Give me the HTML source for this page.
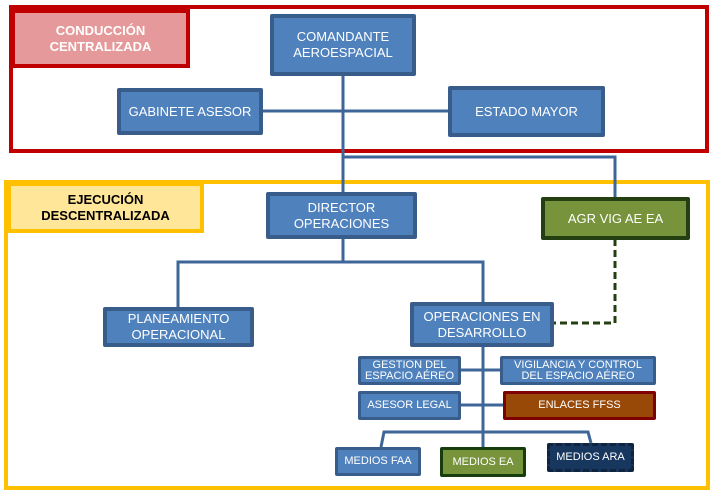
<!DOCTYPE html><html><head><meta charset="utf-8"><style>
body{margin:0;width:715px;height:497px;background:#fff;position:relative;overflow:hidden;font-family:"Liberation Sans",sans-serif}
.b{position:absolute;box-sizing:border-box;display:flex;align-items:center;justify-content:center;text-align:center;color:#fff;background:#4f81bd;border:4px solid #385d8a;border-radius:2px;font-size:13px;line-height:16px}
.s{font-size:11px;line-height:11px;border-width:3px}
</style></head><body>
<svg width="715" height="497" style="position:absolute;left:0;top:0">
<rect x="11" y="7" width="696" height="144" fill="none" stroke="#c00000" stroke-width="4"/>
<rect x="6" y="182" width="702" height="306" fill="none" stroke="#ffc000" stroke-width="4"/>
<g stroke="#3f6698" stroke-width="3" fill="none">
<line x1="262" y1="111" x2="448" y2="111"/>
<line x1="343" y1="75" x2="343" y2="192"/>
<polyline points="343,157 615,157 615,198"/>
<line x1="343" y1="238" x2="343" y2="262"/>
<polyline points="178,307 178,262 483,262 483,302"/>
<line x1="483" y1="346" x2="483" y2="447"/>
<line x1="460" y1="370" x2="500" y2="370"/>
<line x1="460" y1="405" x2="503" y2="405"/>
<polyline points="381,447 384,432 588,432 591,443"/>
</g>
<polyline points="615,239 615,323 553,323" stroke="#244012" stroke-width="3" stroke-dasharray="7,4" fill="none"/>
</svg>
<div class="b" style="left:11px;top:9px;width:179px;height:59px;background:#e6999a;border:4px solid #c00000;border-radius:0;font-weight:bold">CONDUCCIÓN<br>CENTRALIZADA</div>
<div class="b" style="left:7px;top:182px;width:197px;height:51px;background:#ffe699;border:4px solid #ffc000;border-radius:0;font-weight:bold;color:#000">EJECUCIÓN<br>DESCENTRALIZADA</div>
<div class="b" style="left:270px;top:14px;width:146px;height:62px">COMANDANTE<br>AEROESPACIAL</div>
<div class="b" style="left:117px;top:88px;width:146px;height:47px">GABINETE ASESOR</div>
<div class="b" style="left:448px;top:86px;width:157px;height:51px">ESTADO MAYOR</div>
<div class="b" style="left:266px;top:192px;width:151px;height:47px">DIRECTOR<br>OPERACIONES</div>
<div class="b" style="left:541px;top:197px;width:149px;height:43px;background:#77933c;border-color:#244012">AGR VIG AE EA</div>
<div class="b" style="left:103px;top:307px;width:151px;height:40px">PLANEAMIENTO<br>OPERACIONAL</div>
<div class="b" style="left:410px;top:302px;width:144px;height:45px">OPERACIONES EN<br>DESARROLLO</div>
<div class="b s" style="left:358px;top:356px;width:103px;height:29px">GESTION DEL<br>ESPACIO AÉREO</div>
<div class="b s" style="left:500px;top:356px;width:156px;height:29px">VIGILANCIA Y CONTROL<br>DEL ESPACIO AÉREO</div>
<div class="b s" style="left:358px;top:391px;width:103px;height:29px">ASESOR LEGAL</div>
<div class="b s" style="left:503px;top:391px;width:153px;height:29px;background:#984807;border-color:#7f0000">ENLACES FFSS</div>
<div class="b s" style="left:335px;top:447px;width:86px;height:29px">MEDIOS FAA</div>
<div class="b s" style="left:440px;top:447px;width:86px;height:30px;background:#77933c;border-color:#173d0c">MEDIOS EA</div>
<div class="b s" style="left:547px;top:443px;width:87px;height:29px;background:#17375e;border:3px dashed #0f243e">MEDIOS ARA</div>
</body></html>
